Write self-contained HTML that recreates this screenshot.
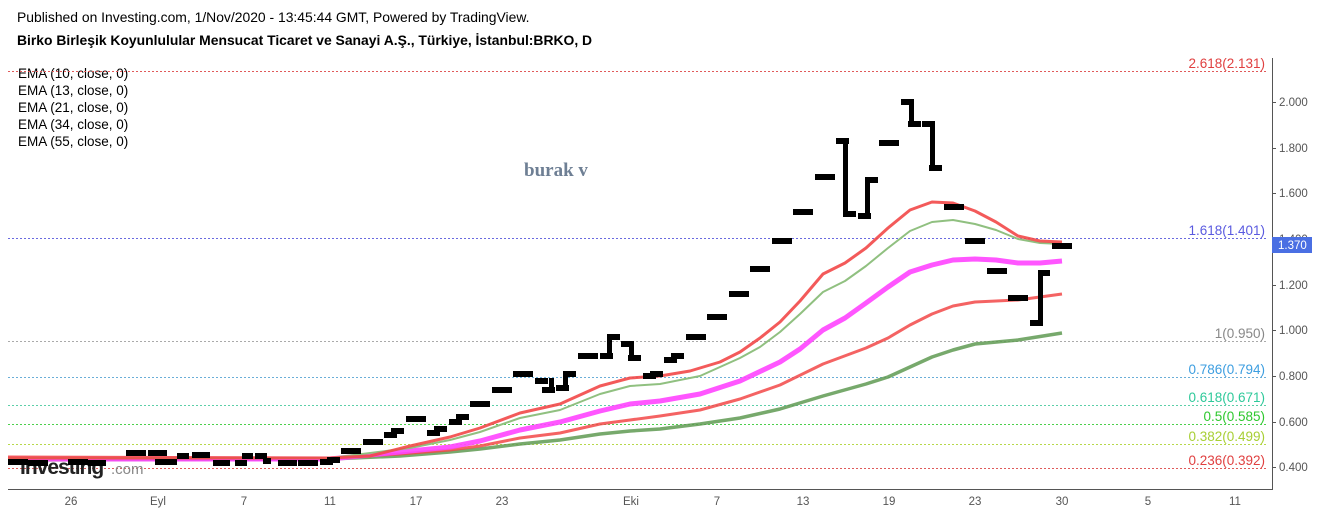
<!DOCTYPE html>
<html><head><meta charset="utf-8"><style>
body{margin:0;background:#fff;width:1318px;height:513px;overflow:hidden;font-family:"Liberation Sans",sans-serif}
svg{position:absolute;left:0;top:0}
</style></head><body>
<svg width="1318" height="513" viewBox="0 0 1318 513" font-family="Liberation Sans, sans-serif">
<text x="17" y="22" font-size="13.9" fill="#000">Published on Investing.com, 1/Nov/2020 - 13:45:44 GMT, Powered by TradingView.</text>
<text x="17" y="45" font-size="13.9" font-weight="bold" fill="#000">Birko Birleşik Koyunlulular Mensucat Ticaret ve Sanayi A.Ş., Türkiye, İstanbul:BRKO, D</text>
<g font-size="13.5" fill="#000">
<text x="18" y="78">EMA (10, close, 0)</text>
<text x="18" y="95">EMA (13, close, 0)</text>
<text x="18" y="112">EMA (21, close, 0)</text>
<text x="18" y="129">EMA (34, close, 0)</text>
<text x="18" y="146">EMA (55, close, 0)</text>
</g>
<text x="524" y="176" font-family="Liberation Serif, serif" font-weight="bold" font-size="19" fill="#6e7f94">burak v</text>
<g stroke-dasharray="2,2" stroke-width="1">
<line x1="8" x2="1268" y1="71.5" y2="71.5" stroke="#e05a5a"/>
<line x1="8" x2="1268" y1="238.5" y2="238.5" stroke="#6a6ae0"/>
<line x1="8" x2="1268" y1="341.5" y2="341.5" stroke="#aaa"/>
<line x1="8" x2="1268" y1="377.5" y2="377.5" stroke="#6aaed8"/>
<line x1="8" x2="1268" y1="405.5" y2="405.5" stroke="#5ccfa8"/>
<line x1="8" x2="1268" y1="424.5" y2="424.5" stroke="#4cd04c"/>
<line x1="8" x2="1268" y1="444.5" y2="444.5" stroke="#b7d94a"/>
<line x1="8" x2="1268" y1="468.5" y2="468.5" stroke="#e05a5a"/>
</g>
<g font-size="13.5" text-anchor="end">
<text x="1265" y="68" fill="#e04040">2.618(2.131)</text>
<text x="1265" y="235" fill="#5a5ae0">1.618(1.401)</text>
<text x="1265" y="338" fill="#888">1(0.950)</text>
<text x="1265" y="374" fill="#3d9ee0">0.786(0.794)</text>
<text x="1265" y="402" fill="#2ec99a">0.618(0.671)</text>
<text x="1265" y="421" fill="#2ec82e">0.5(0.585)</text>
<text x="1265" y="441" fill="#a8cf35">0.382(0.499)</text>
<text x="1265" y="465" fill="#e04040">0.236(0.392)</text>
</g>
<text x="20" y="474" font-size="21" font-weight="bold" fill="#222" letter-spacing="-1">Investing</text>
<text x="111" y="474" font-size="15" fill="#888">.com</text>
<g fill="none" stroke-linejoin="round">
<polyline stroke="#5f9a52" stroke-width="3.5" opacity="0.85" points="8,460 330,459 400,456 450,452 480,449 520,444 560,440 600,434 630,431 660,429 700,424 740,418 780,409 823,396 866,384 888,377 910,367 932,357 953,350 975,344 1018,340 1062,333"/>
<polyline stroke="#f24848" stroke-width="3" opacity="0.85" points="8,457 330,458 400,454 450,450 480,446 520,438 560,433 600,424 630,420 660,416 700,410 740,399 780,385 823,364 866,348 888,338 910,325 932,314 953,306 975,302 1018,300 1062,294"/>
<polyline stroke="#ff44ff" stroke-width="5" opacity="0.9" points="8,459 330,459 400,452 450,447 480,441 520,430 560,422 600,411 630,404 660,401 700,394 740,381 780,362 800,349 823,330 845,318 866,303 888,287 910,272 932,265 953,260 975,259 996,260 1018,263 1040,263 1062,261"/>
<polyline stroke="#90c080" stroke-width="2" points="8,458 330,458 410,448 450,440 480,432 520,418 560,410 600,394 630,386 660,384 700,376 740,358 760,347 780,332 800,314 823,292 845,281 866,266 888,248 910,231 932,222 953,220 975,224 996,230 1018,239 1040,243 1062,244"/>
<polyline stroke="#f24848" stroke-width="3" opacity="0.9" points="8,458 330,458 370,456 410,446 450,437 480,428 520,413 560,404 600,386 630,378 660,376 690,371 720,362 740,352 760,338 780,322 800,301 823,274 845,263 866,248 888,228 910,210 932,202 953,203 975,211 996,222 1018,236 1040,241 1062,242"/>
</g>
<g fill="#000">
<rect x="8" y="459" width="20" height="6"/><rect x="28" y="460" width="20" height="6"/><rect x="68" y="459" width="20" height="6"/><rect x="88" y="460" width="18" height="6"/>
<rect x="126" y="450" width="20" height="6"/><rect x="148" y="450" width="19" height="6"/><rect x="155" y="459" width="22" height="6"/><rect x="177" y="453" width="12" height="6"/>
<rect x="192" y="452" width="18" height="6"/><rect x="213" y="460" width="17" height="6"/><rect x="235" y="460" width="12" height="6"/><rect x="242" y="453" width="11" height="6"/>
<rect x="255" y="453" width="12" height="6"/><rect x="263" y="458" width="8" height="6"/><rect x="278" y="460" width="19" height="6"/><rect x="298" y="460" width="20" height="6"/><rect x="320" y="459" width="13" height="6"/><rect x="327" y="457" width="13" height="6"/>
<rect x="341" y="448" width="20" height="6"/><rect x="363" y="439" width="20" height="6"/><rect x="384" y="432" width="13" height="6"/><rect x="391" y="428" width="13" height="6"/>
<rect x="406" y="416" width="20" height="6"/><rect x="427" y="430" width="13" height="6"/><rect x="434" y="426" width="13" height="6"/><rect x="449" y="419" width="13" height="6"/><rect x="456" y="414" width="13" height="6"/>
<rect x="470" y="401" width="20" height="6"/><rect x="492" y="387" width="20" height="6"/><rect x="513" y="371" width="20" height="6"/>
<rect x="535" y="378" width="13" height="6"/><rect x="549" y="378" width="5" height="12"/><rect x="542" y="387" width="13" height="6"/>
<rect x="556" y="385" width="13" height="6"/><rect x="563" y="371" width="5" height="20"/><rect x="563" y="371" width="13" height="6"/>
<rect x="578" y="353" width="20" height="6"/><rect x="600" y="353" width="13" height="6"/><rect x="607" y="334" width="5" height="22"/><rect x="607" y="334" width="13" height="6"/>
<rect x="621" y="341" width="13" height="6"/><rect x="629" y="341" width="5" height="17"/><rect x="628" y="355" width="13" height="6"/>
<rect x="643" y="373" width="13" height="6"/><rect x="650" y="371" width="13" height="6"/><rect x="664" y="357" width="13" height="6"/><rect x="671" y="353" width="13" height="6"/><rect x="686" y="334" width="20" height="6"/>
<rect x="707" y="314" width="20" height="6"/><rect x="729" y="291" width="20" height="6"/><rect x="750" y="266" width="20" height="6"/><rect x="772" y="238" width="20" height="6"/><rect x="793" y="209" width="20" height="6"/><rect x="815" y="174" width="20" height="6"/>
<rect x="836" y="138" width="13" height="6"/><rect x="843" y="138" width="5" height="79"/><rect x="843" y="211" width="13" height="6"/>
<rect x="858" y="213" width="13" height="6"/><rect x="865" y="177" width="5" height="42"/><rect x="865" y="177" width="13" height="6"/>
<rect x="879" y="140" width="20" height="6"/>
<rect x="901" y="99" width="13" height="6"/><rect x="909" y="99" width="5" height="28"/><rect x="908" y="121" width="13" height="6"/>
<rect x="922" y="121" width="13" height="6"/><rect x="930" y="121" width="5" height="50"/><rect x="929" y="165" width="13" height="6"/>
<rect x="944" y="204" width="20" height="6"/><rect x="965" y="238" width="20" height="6"/><rect x="987" y="268" width="20" height="6"/><rect x="1008" y="295" width="20" height="6"/>
<rect x="1030" y="320" width="13" height="6"/><rect x="1038" y="270" width="5" height="56"/><rect x="1038" y="270" width="12" height="6"/>
<rect x="1052" y="243" width="20" height="6"/>
</g>
<line x1="1272.5" y1="58" x2="1272.5" y2="490" stroke="#555"/>
<line x1="8" y1="489.5" x2="1273" y2="489.5" stroke="#555"/>
<g font-size="11.5" fill="#555">
<g stroke="#555"><line x1="1272" x2="1276" y1="102.5" y2="102.5"/><line x1="1272" x2="1276" y1="148.5" y2="148.5"/><line x1="1272" x2="1276" y1="193.5" y2="193.5"/><line x1="1272" x2="1276" y1="239.5" y2="239.5"/><line x1="1272" x2="1276" y1="285.5" y2="285.5"/><line x1="1272" x2="1276" y1="330.5" y2="330.5"/><line x1="1272" x2="1276" y1="376.5" y2="376.5"/><line x1="1272" x2="1276" y1="422.5" y2="422.5"/><line x1="1272" x2="1276" y1="467.5" y2="467.5"/></g>
<text x="1279" y="106">2.000</text><text x="1279" y="152">1.800</text><text x="1279" y="197">1.600</text><text x="1279" y="243">1.400</text><text x="1279" y="289">1.200</text><text x="1279" y="334">1.000</text><text x="1279" y="380">0.800</text><text x="1279" y="426">0.600</text><text x="1279" y="471">0.400</text>
<g text-anchor="middle">
<text x="71" y="505">26</text><text x="158" y="505">Eyl</text><text x="244" y="505">7</text><text x="330" y="505">11</text><text x="416" y="505">17</text><text x="502" y="505">23</text><text x="631" y="505">Eki</text><text x="717" y="505">7</text><text x="803" y="505">13</text><text x="889" y="505">19</text><text x="975" y="505">23</text><text x="1062" y="505">30</text><text x="1148" y="505">5</text><text x="1235" y="505">11</text>
</g>
</g>
<rect x="1272" y="237" width="40" height="16" fill="#4a6fe3"/>
<text x="1278" y="249" font-size="11.5" fill="#fff">1.370</text>
</svg>
</body></html>
